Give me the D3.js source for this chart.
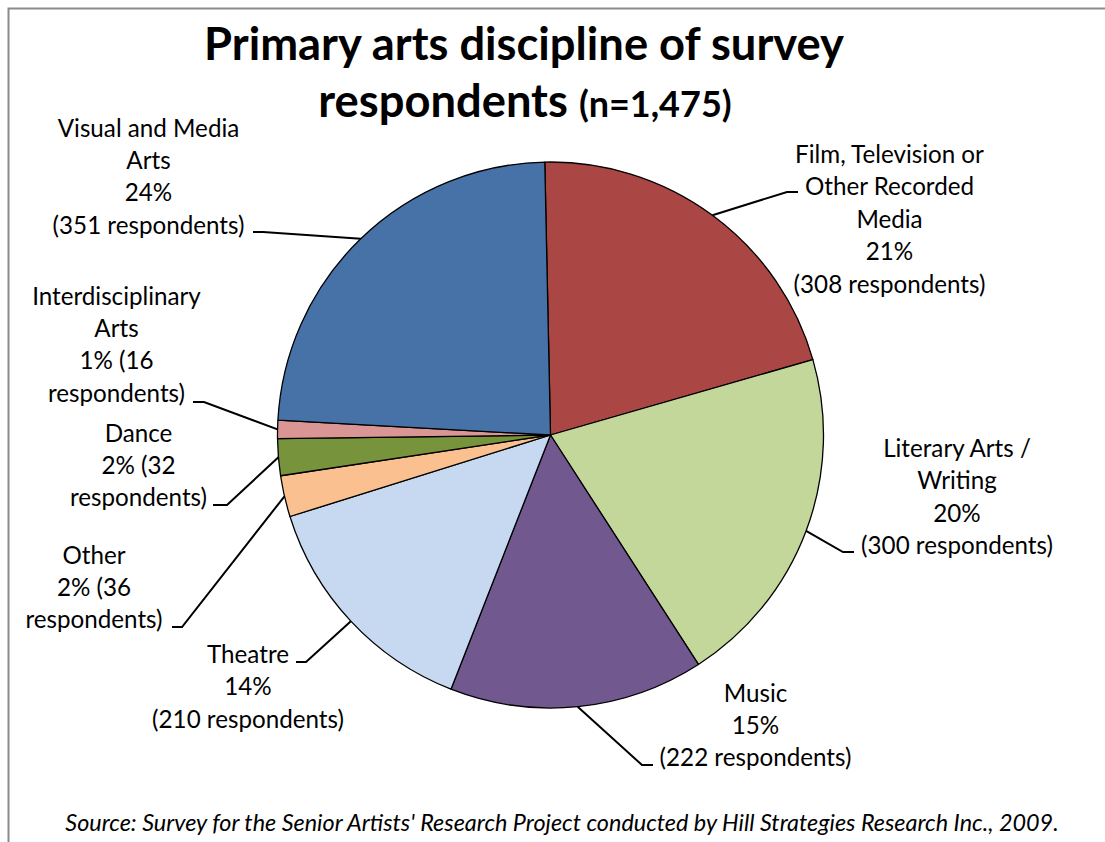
<!DOCTYPE html>
<html>
<head>
<meta charset="utf-8">
<script src="https://cdn.jsdelivr.net/npm/d3@7"></script>
<style>
  html, body { margin: 0; padding: 0; background: #fff; }
  svg { display: block; }
  text { font-family: Lato, "Open Sans", sans-serif; fill: #000; }
</style>
</head>
<body>
<script>
// Survey respondents by primary arts discipline (n = 1,475), clockwise from 12 o'clock
const categories = [
  "Film, Television or Other Recorded Media",
  "Literary Arts / Writing",
  "Music",
  "Theatre",
  "Other",
  "Dance",
  "Interdisciplinary Arts",
  "Visual and Media Arts"
];
const respondents = [308, 300, 222, 210, 36, 32, 16, 351];
const sliceColors = ["#AA4643", "#C4D79B", "#71588F", "#C6D9F1", "#FAC090", "#77933C", "#D99694", "#4672A8"];

// How each category name is wrapped in its label
const nameLines = [
  ["Film, Television or", "Other Recorded", "Media"],
  ["Literary Arts /", "Writing"],
  ["Music"],
  ["Theatre"],
  ["Other"],
  ["Dance"],
  ["Interdisciplinary", "Arts"],
  ["Visual and Media", "Arts"]
];
// "long": percent and count on separate lines; "short": "1% (16" / "respondents)"
const labelStyle = ["long", "long", "long", "long", "short", "short", "short", "long"];

const titleLine1 = "Primary arts discipline of survey";
const titleLine2a = "respondents ";
const titleLine2b = "(n=1,475)";
const sourceNote = "Source: Survey for the Senior Artists' Research Project conducted by Hill Strategies Research Inc., 2009.";

// ---- layout ----
const W = 1105, H = 842;
const cx = 550.5, cy = 435, R = 273;
const rotation = -1.2 * Math.PI / 180;
const lineH = 32.4;

// label block: centre x, first baseline; leader: y of the horizontal stub, its outer and inner x
const labelLayout = [
  { x: 889.5, y: 163,   ly: 192, lx0: 798, lx1: 787 },
  { x: 957,   y: 457,   ly: 552, lx0: 854, lx1: 843 },
  { x: 755.5, y: 701.5, ly: 765, lx0: 653, lx1: 642 },
  { x: 248,   y: 663,   ly: 662, lx0: 296, lx1: 306 },
  { x: 94,    y: 563.5, ly: 627, lx0: 172, lx1: 182 },
  { x: 138.5, y: 441.5, ly: 505, lx0: 213, lx1: 227 },
  { x: 116.5, y: 304.5, ly: 402, lx0: 193, lx1: 204 },
  { x: 148.5, y: 136.5, ly: 232, lx0: 253, lx1: 263 }
];

const total = d3.sum(respondents);
const fmtCount = d3.format(",");

const svg = d3.select("body").append("svg")
  .attr("width", W).attr("height", H);

// chart frame (top and left edges visible)
svg.append("path")
  .attr("d", `M8.5,${H} L8.5,8.5 L${W},8.5`)
  .attr("fill", "none")
  .attr("stroke", "#8a8a8a")
  .attr("stroke-width", 2);

// title
const title = svg.append("g").attr("font-weight", "bold");
title.append("text")
  .attr("x", 524).attr("y", 60)
  .attr("text-anchor", "middle")
  .attr("font-size", 45.3)
  .text(titleLine1);
const t2 = title.append("text")
  .attr("x", 525).attr("y", 117)
  .attr("text-anchor", "middle");
t2.append("tspan").attr("font-size", 45.3).text(titleLine2a);
t2.append("tspan").attr("font-size", 36).text(titleLine2b);

// pie
const pie = d3.pie()
  .value(d => d.value)
  .sort(null)
  .startAngle(rotation)
  .endAngle(rotation + 2 * Math.PI);

const data = categories.map((c, i) => ({ name: c, value: respondents[i], i }));
const arcs = pie(data);

const arc = d3.arc().innerRadius(0).outerRadius(R);

const g = svg.append("g").attr("transform", `translate(${cx},${cy})`);
g.selectAll("path.slice")
  .data(arcs)
  .join("path")
  .attr("class", "slice")
  .attr("d", arc)
  .attr("fill", d => sliceColors[d.data.i])
  .attr("stroke", "#000")
  .attr("stroke-width", 1.3)
  .attr("stroke-linejoin", "round");

// leader lines from each slice's outer mid-point to its label
const leaders = svg.append("g")
  .attr("fill", "none")
  .attr("stroke", "#000")
  .attr("stroke-width", 2);

arcs.forEach(d => {
  const L = labelLayout[d.data.i];
  const mid = (d.startAngle + d.endAngle) / 2;
  const px = cx + R * Math.sin(mid);
  const py = cy - R * Math.cos(mid);
  leaders.append("path")
    .attr("d", d3.line()([[L.lx0, L.ly], [L.lx1, L.ly], [px, py]]));
});

// labels
const labels = svg.append("g").attr("font-size", 24.2).attr("text-anchor", "middle");
arcs.forEach(d => {
  const i = d.data.i;
  const L = labelLayout[i];
  const pct = Math.round(d.data.value / total * 100) + "%";
  let lines = nameLines[i].slice();
  if (labelStyle[i] === "long") {
    lines.push(pct, `(${fmtCount(d.data.value)} respondents)`);
  } else {
    lines.push(`${pct} (${fmtCount(d.data.value)}`, "respondents)");
  }
  const t = labels.append("text").attr("x", L.x).attr("y", L.y);
  lines.forEach((ln, k) => {
    t.append("tspan")
      .attr("x", L.x)
      .attr("y", L.y + k * lineH)
      .text(ln);
  });
});

// source note
svg.append("text")
  .attr("x", 562).attr("y", 830.5)
  .attr("text-anchor", "middle")
  .attr("font-size", 23.4)
  .attr("font-style", "italic")
  .text(sourceNote);
</script>
</body>
</html>
